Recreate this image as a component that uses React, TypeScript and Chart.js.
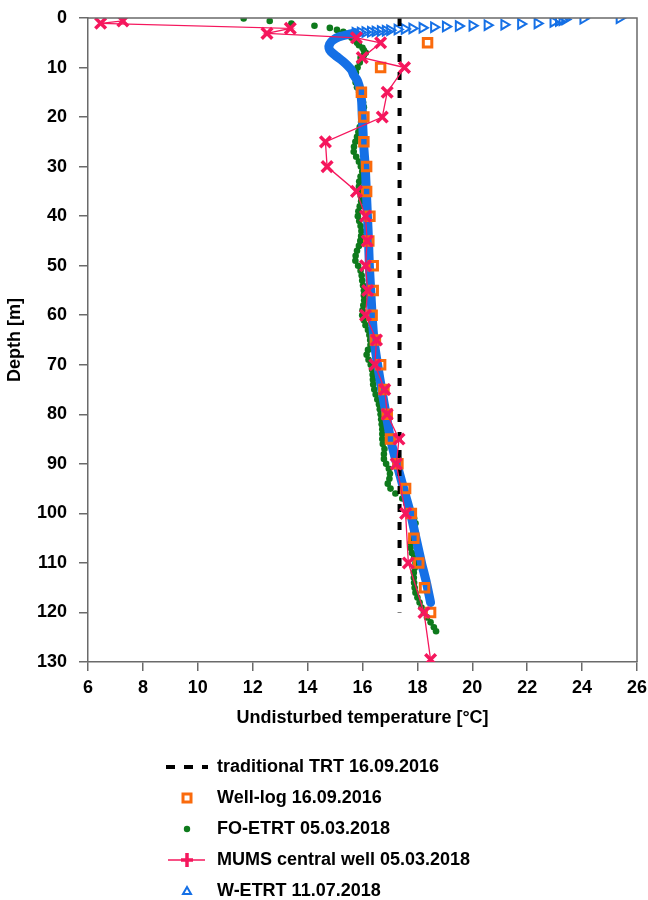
import React, { useEffect, useRef } from 'react';
import { Chart, registerables } from 'chart.js';

Chart.register(...registerables);

// ---------- data ----------
const trtTemp = [17.35, 17.35];
const trtDepth = [0, 120];

const wellLogDepth = [5, 10, 15, 20, 25, 30, 35, 40, 45, 50, 55, 60, 65, 70, 75, 80, 85, 90, 95, 100, 105, 110, 115, 120];
const wellLogTemp = [18.37, 16.66, 15.96, 16.05, 16.05, 16.15, 16.15, 16.27, 16.23, 16.39, 16.39, 16.35, 16.47, 16.66, 16.78, 16.9, 17.02, 17.29, 17.57, 17.78, 17.87, 18.05, 18.26, 18.48];

const foDepth = [
  0.1, 0.6, 1.1, 1.55, 2.0, 2.4, 2.8, 3.2, 3.6, 4.0, 4.5, 5.0, 5.5, 6.0, 6.5, 7.0, 7.5, 8.0,
  9, 10, 11, 12, 13, 14, 15, 16, 17, 18, 19, 20, 21, 22, 23, 24, 25, 26, 27, 28, 29, 30,
  31, 32, 33, 34, 35, 36, 37, 38, 39, 40, 41, 42, 43, 44, 45, 46, 47, 48, 49, 50,
  51, 52, 53, 54, 55, 56, 57, 58, 59, 60, 61, 62, 63, 64, 65, 66, 67, 68, 69, 70,
  71, 72, 73, 74, 75, 76, 77, 78, 79, 80, 81, 82, 83, 84, 85, 86, 87, 88, 89, 90,
  91, 92, 93, 94, 95, 96, 97, 98, 99, 100, 101, 102, 103, 104, 105, 106, 107, 108, 109, 110,
  111, 112, 113, 114, 115, 116, 117, 118, 119, 120, 121, 122, 123, 123.8,
];
const foTemp = [
  11.67, 12.62, 13.41, 14.25, 14.81, 15.07, 15.3, 15.42, 15.52, 15.6, 15.7, 15.8, 15.87, 16.0, 16.05, 16.12, 16.05, 15.93,
  15.9, 15.82, 15.76, 15.72, 15.75, 15.8, 15.88, 15.96, 16.02, 16.05, 16.03, 15.99, 15.95, 15.9, 15.85, 15.8, 15.74, 15.69, 15.68, 15.77, 15.87, 15.94,
  15.99, 15.93, 15.88, 15.87, 15.9, 15.94, 15.95, 15.9, 15.85, 15.83, 15.88, 15.93, 15.96, 15.95, 15.92, 15.87, 15.8, 15.75, 15.74, 15.84,
  15.93, 15.97, 15.99, 16.02, 16.05, 16.05, 16.06, 16.03, 16.0, 15.99, 16.05, 16.11, 16.2, 16.25, 16.28, 16.29, 16.2, 16.15, 16.22, 16.3,
  16.35, 16.37, 16.38, 16.39, 16.43, 16.48, 16.54, 16.6, 16.63, 16.66, 16.68, 16.7, 16.72, 16.72, 16.72, 16.74, 16.8, 16.78, 16.78, 16.86,
  16.96, 17.0, 16.98, 16.92, 17.02, 17.2, 17.45, 17.6, 17.7, 17.8, 17.88, 17.93, 17.9, 17.85, 17.8, 17.76, 17.75, 17.8, 17.88, 17.93,
  17.9, 17.87, 17.87, 17.88, 17.9, 17.93, 18.0, 18.08, 18.15, 18.24, 18.35, 18.48, 18.6, 18.68,
];

const mumsDepth = [0.6, 1.07, 2.1, 3.1, 4.0, 5, 8, 10, 15, 20, 25, 30, 35, 40, 45, 50, 55, 60, 65, 70, 75, 80, 85, 90, 100, 110, 120, 129.5];
const mumsTemp = [7.27, 6.46, 13.37, 12.52, 15.78, 16.66, 15.99, 17.53, 16.9, 16.72, 14.65, 14.71, 15.78, 16.11, 16.17, 16.11, 16.19, 16.11, 16.51, 16.45, 16.81, 16.9, 17.33, 17.23, 17.57, 17.67, 18.24, 18.48];

// W-ETRT: near-surface readings (sparse markers) followed by the dense profile
const wEtrtTopCount = 26;
const wEtrtDepth = [
  0.05, 0.15, 0.3, 0.45, 0.6, 0.8, 1.1, 1.2, 1.35, 1.45, 1.55, 1.62, 1.72, 1.85, 1.98, 2.1, 2.2, 2.32, 2.45, 2.55, 2.62, 2.7, 2.78, 2.85, 2.92, 3.0,
  3.3, 3.8, 4.5, 5.3, 6.1, 6.8, 7.8, 8.7, 9.5, 10.5, 11.5, 12.5, 13.5, 15, 17, 19.6, 23, 26.3, 30, 35, 40, 45, 50, 55, 60, 65, 70, 75, 80, 85, 89, 92, 96, 100, 105, 110, 114, 118,
];
const wEtrtTemp = [
  25.36, 24.04, 23.38, 23.28, 23.15, 22.95, 22.37, 21.77, 21.16, 20.55, 20.0, 19.5, 19.03, 18.6, 18.18, 17.81, 17.53, 17.27, 17.0, 16.84, 16.66, 16.47, 16.3, 16.1, 15.93, 15.74,
  15.5, 15.15, 14.92, 14.8, 14.78, 14.85, 15.07, 15.28, 15.44, 15.6, 15.68, 15.8, 15.87, 15.93, 15.97, 15.99, 16.02, 16.05, 16.1, 16.14, 16.18, 16.22, 16.25, 16.3, 16.35, 16.42, 16.55, 16.7, 16.86, 17.02, 17.2, 17.35, 17.55, 17.75, 17.95, 18.15, 18.33, 18.48,
];

const xTicksMin = 6;
const xTicksMax = 26;
const xStep = 2;
const yMin = 0;
const yMax = 130;
const yStep = 10;

const legendLabels = [
  'traditional TRT 16.09.2016',
  'Well-log 16.09.2016',
  'FO-ETRT 05.03.2018',
  'MUMS central well 05.03.2018',
  'W-ETRT 11.07.2018',
];
const xTitle = 'Undisturbed temperature [°C]';
const yTitle = 'Depth [m]';

// ---------- styles ----------
const BLUE = '#1570e6';
const GREEN = '#0e7a1c';
const ORANGE = '#fa6a0c';
const PINK = '#f5175d';
const AXIS = '#6a6a6a';
const FONT = '"Liberation Sans", Arial, sans-serif';

const zip = (xs: number[], ys: number[]) => xs.map((x, i) => ({ x, y: ys[i] }));

const legendPlugin = {
  id: 'customLegend',
  afterDraw(chart: any) {
    const ctx = chart.ctx as CanvasRenderingContext2D;
    const mx = 187;
    const tx = 217;
    const y0 = 767;
    const dy = 31;
    ctx.save();
    ctx.font = `bold 18px ${FONT}`;
    ctx.textBaseline = 'middle';
    ctx.textAlign = 'left';
    legendLabels.forEach((label, i) => {
      const y = y0 + i * dy;
      ctx.save();
      if (i === 0) {
        ctx.strokeStyle = '#000';
        ctx.lineWidth = 4;
        ctx.setLineDash([9, 9]);
        ctx.beginPath();
        ctx.moveTo(166, y);
        ctx.lineTo(208, y);
        ctx.stroke();
      } else if (i === 1) {
        ctx.strokeStyle = ORANGE;
        ctx.lineWidth = 3;
        ctx.fillStyle = '#fff';
        ctx.fillRect(mx - 4, y - 4, 8, 8);
        ctx.strokeRect(mx - 4, y - 4, 8, 8);
      } else if (i === 2) {
        ctx.fillStyle = GREEN;
        ctx.beginPath();
        ctx.arc(mx, y, 3.2, 0, Math.PI * 2);
        ctx.fill();
      } else if (i === 3) {
        ctx.strokeStyle = PINK;
        ctx.lineWidth = 1.5;
        ctx.beginPath();
        ctx.moveTo(168, y);
        ctx.lineTo(205, y);
        ctx.stroke();
        ctx.lineWidth = 3.5;
        ctx.beginPath();
        ctx.moveTo(mx - 6, y);
        ctx.lineTo(mx + 6, y);
        ctx.moveTo(mx, y - 7);
        ctx.lineTo(mx, y + 7);
        ctx.stroke();
      } else {
        ctx.strokeStyle = BLUE;
        ctx.lineWidth = 2;
        ctx.beginPath();
        ctx.moveTo(mx, y - 4);
        ctx.lineTo(mx + 4, y + 3);
        ctx.lineTo(mx - 4, y + 3);
        ctx.closePath();
        ctx.stroke();
      }
      ctx.restore();
      ctx.fillStyle = '#000';
      ctx.fillText(label, tx, y);
    });
    ctx.restore();
  },
};

const framePlugin = {
  id: 'frame',
  afterDatasetsDraw(chart: any) {
    const { ctx, chartArea } = chart;
    ctx.save();
    ctx.strokeStyle = AXIS;
    ctx.lineWidth = 1.5;
    ctx.beginPath();
    ctx.moveTo(chartArea.left, chartArea.top);
    ctx.lineTo(chartArea.right, chartArea.top);
    ctx.lineTo(chartArea.right, chartArea.bottom);
    ctx.stroke();
    ctx.restore();
  },
};

export default function App() {
  const canvasRef = useRef<HTMLCanvasElement | null>(null);

  useEffect(() => {
    if (!canvasRef.current) return;
    const tickFont = { family: FONT, size: 18, weight: 'bold' as const };
    const chart = new Chart(canvasRef.current, {
      type: 'line',
      data: {
        datasets: [
          {
            label: legendLabels[2],
            data: zip(foTemp, foDepth),
            showLine: false,
            pointStyle: 'circle',
            pointRadius: 3.3,
            pointBorderWidth: 0,
            pointBackgroundColor: GREEN,
            pointBorderColor: GREEN,
            order: 5,
          },
          {
            label: legendLabels[4],
            data: zip(wEtrtTemp, wEtrtDepth),
            showLine: true,
            borderColor: BLUE,
            borderWidth: 9,
            borderCapStyle: 'round',
            borderJoinStyle: 'round',
            tension: 0.25,
            segment: {
              borderColor: (c: any) => (c.p0DataIndex < wEtrtTopCount - 1 ? 'rgba(0,0,0,0)' : BLUE),
            },
            pointStyle: 'triangle',
            pointRotation: 90,
            pointRadius: (c: any) => (c.dataIndex < wEtrtTopCount ? 5.5 : 0),
            pointBorderWidth: 2,
            pointBorderColor: BLUE,
            pointBackgroundColor: 'rgba(0,0,0,0)',
            order: 4,
          } as any,
          {
            label: legendLabels[0],
            data: zip(trtTemp, trtDepth),
            showLine: true,
            borderColor: '#000',
            borderWidth: 4,
            borderDash: [8, 10],
            pointRadius: 0,
            order: 3,
          },
          {
            label: legendLabels[1],
            data: zip(wellLogTemp, wellLogDepth),
            showLine: false,
            pointStyle: 'rect',
            pointRadius: 6,
            pointBorderWidth: 3,
            pointBorderColor: ORANGE,
            pointBackgroundColor: 'rgba(0,0,0,0)',
            order: 2,
          },
          {
            label: legendLabels[3],
            data: zip(mumsTemp, mumsDepth),
            showLine: true,
            borderColor: PINK,
            borderWidth: 1.3,
            pointStyle: 'crossRot',
            pointRadius: 7.5,
            pointBorderWidth: 3.5,
            pointBorderColor: PINK,
            pointBackgroundColor: PINK,
            order: 1,
          },
        ],
      },
      options: {
        responsive: false,
        animation: false,
        devicePixelRatio: 1,
        layout: { padding: { top: 18, right: 10, bottom: 171, left: 0 } },
        plugins: {
          legend: { display: false },
          tooltip: { enabled: false },
        },
        scales: {
          x: {
            type: 'linear',
            position: 'bottom',
            min: xTicksMin,
            max: xTicksMax,
            ticks: { stepSize: xStep, color: '#000', font: tickFont, padding: 6, maxRotation: 0 },
            grid: { display: true, drawOnChartArea: false, drawTicks: true, tickLength: 9, color: AXIS, lineWidth: 1.5 },
            border: { display: true, color: AXIS, width: 1.5 },
            title: { display: true, text: xTitle, color: '#000', font: { family: FONT, size: 18, weight: 'bold' }, padding: { top: 4, bottom: 0 } },
            afterFit: (s: any) => { s.height = 67; s.paddingLeft = 0; s.paddingRight = 0; },
          },
          y: {
            type: 'linear',
            reverse: true,
            min: yMin,
            max: yMax,
            ticks: { stepSize: yStep, color: '#000', font: tickFont, padding: 12 },
            grid: { display: true, drawOnChartArea: false, drawTicks: true, tickLength: 9, color: AXIS, lineWidth: 1.5 },
            border: { display: true, color: AXIS, width: 1.5 },
            title: { display: true, text: yTitle, color: '#000', font: { family: FONT, size: 18, weight: 'bold' }, padding: { top: 4, bottom: 0 } },
            afterFit: (s: any) => { s.width = 88; s.paddingTop = 0; s.paddingBottom = 0; },
          },
        },
      },
      plugins: [framePlugin, legendPlugin],
    } as any);
    return () => chart.destroy();
  }, []);

  return (
    <div style={{ position: 'fixed', left: 0, top: 0, width: 648, height: 900, background: '#fff' }}>
      <canvas ref={canvasRef} width={648} height={900} style={{ display: 'block' }} />
    </div>
  );
}
